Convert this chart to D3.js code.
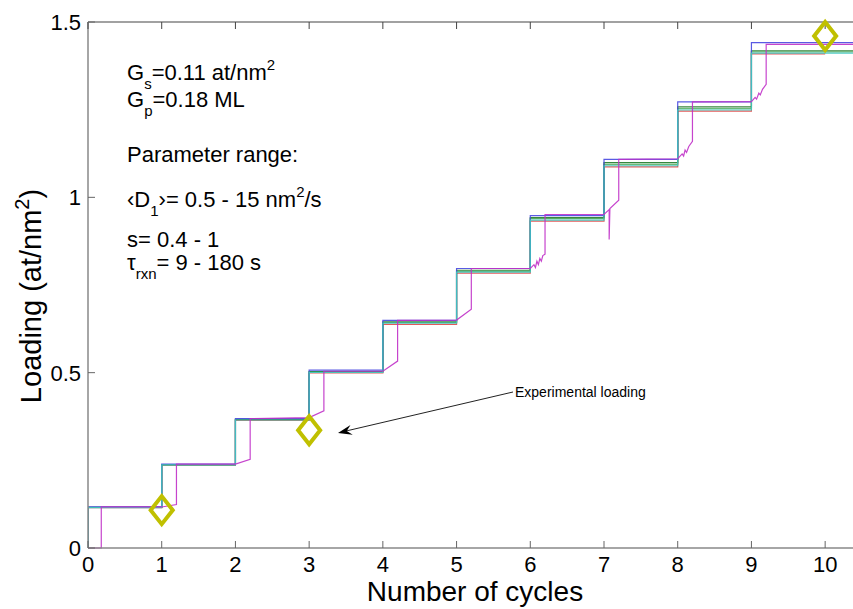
<!DOCTYPE html>
<html><head><meta charset="utf-8">
<script src="https://cdn.jsdelivr.net/npm/d3@7"></script>
<style>body{margin:0;background:#fff}svg{display:block;font-family:"Liberation Sans",Arial,sans-serif}</style>
</head><body><svg id="c" width="853" height="609"></svg>
<script>
// ---- data ----
const cycles = [0,1,2,3,4,5,6,7,8,9];
const blueLevels    = [0.117,0.239,0.369,0.507,0.649,0.797,0.948,1.108,1.272,1.441];
const dkgreenLevels = [0.116,0.238,0.367,0.503,0.645,0.792,0.942,1.099,1.258,1.418];
const greenLevels   = [0.116,0.237,0.366,0.502,0.643,0.789,0.939,1.094,1.253,1.415];
const cyanLevels    = [0.115,0.237,0.365,0.501,0.641,0.787,0.935,1.090,1.249,1.411];
const redLevels     = [0.115,0.236,0.364,0.499,0.638,0.784,0.932,1.087,1.246,1.409];
const magentaX = [0,0.18,0.18,1.0,1.2,1.2,2.0,2.2,2.2,3.0,3.2,3.2,4.0,4.2,4.2,5.0,5.2,5.2,6.0,6.05,6.07,6.09,6.11,6.13,6.15,6.17,6.2,6.2,7.0,7.07,7.07,7.08,7.2,7.2,8.0,8.06,8.08,8.1,8.12,8.15,8.2,8.2,9.0,9.05,9.07,9.1,9.12,9.15,9.2,9.2,10.5];
const magentaY = [0,0,0.117,0.117,0.124,0.239,0.239,0.253,0.369,0.372,0.391,0.504,0.504,0.533,0.649,0.650,0.681,0.797,0.797,0.808,0.800,0.818,0.808,0.826,0.818,0.834,0.838,0.951,0.951,0.965,0.880,0.968,0.992,1.108,1.110,1.124,1.118,1.135,1.128,1.145,1.160,1.272,1.273,1.285,1.280,1.297,1.292,1.308,1.322,1.436,1.436];
const expCycles = [1,3,10];
const expLoading = [0.108,0.336,1.46];
const xTicks = [0,1,2,3,4,5,6,7,8,9,10];
const yTicks = [0,0.5,1,1.5];
const yTickLabels = ["0","0.5","1","1.5"];

// ---- layout ----
const svg = d3.select("#c");
const L=88, R=862, T=22, B=548;
const x = d3.scaleLinear().domain([0,10.5]).range([L,R]);
const y = d3.scaleLinear().domain([0,1.5]).range([B,T]);

svg.append("defs").append("clipPath").attr("id","pc")
  .append("rect").attr("x",L).attr("y",T-2).attr("width",R-L).attr("height",B-T+4);

const g = svg.append("g").attr("clip-path","url(#pc)");

function stepSeries(levels, xEnd){
  const pts=[[0,0]];
  levels.forEach((v,i)=>{pts.push([cycles[i],v]);});
  pts.push([xEnd, levels[levels.length-1]]);
  return pts;
}
const line = d3.line().x(d=>x(d[0])).y(d=>y(d[1]));
const stepLine = d3.line().x(d=>x(d[0])).y(d=>y(d[1])).curve(d3.curveStepAfter);

const series = [
  {lv:redLevels, c:"#e04848", end:10},
  {lv:greenLevels, c:"#5ab46a", end:10.5},
  {lv:dkgreenLevels, c:"#227a2a", end:10.5},
  {lv:blueLevels, c:"#4848e0", end:10.5},
  {lv:cyanLevels, c:"#40c8c0", end:10.5}
];
series.forEach(s=>{
  g.append("path").attr("d",stepLine(stepSeries(s.lv,s.end)))
   .attr("fill","none").attr("stroke",s.c).attr("stroke-width",1.2).attr("opacity",0.9);
});
const magPts = magentaX.map((v,i)=>[v,magentaY[i]]);
g.append("path").attr("d",line(magPts)).attr("fill","none")
  .attr("stroke","#c030c8").attr("stroke-width",1.2).attr("opacity",0.9);

// ---- axes ----
const tickLen = 7;
const ax = svg.append("g");
ax.append("line").attr("x1",L).attr("x2",853).attr("y1",T).attr("y2",T).attr("stroke","#444").attr("stroke-width",1.2);
ax.append("line").attr("x1",L).attr("x2",853).attr("y1",B).attr("y2",B).attr("stroke","#888").attr("stroke-width",1.5);
ax.append("line").attr("x1",L).attr("x2",L).attr("y1",T).attr("y2",B).attr("stroke","#888").attr("stroke-width",1.5);
xTicks.forEach(t=>{
  ax.append("line").attr("x1",x(t)).attr("x2",x(t)).attr("y1",B).attr("y2",B-tickLen).attr("stroke","#666");
  ax.append("line").attr("x1",x(t)).attr("x2",x(t)).attr("y1",T).attr("y2",T+tickLen).attr("stroke","#444");
  ax.append("text").attr("x",x(t)).attr("y",B+24).attr("text-anchor","middle")
    .attr("font-size",22).attr("fill","#000").text(t);
});
yTicks.forEach((t,i)=>{
  ax.append("line").attr("x1",L).attr("x2",L+tickLen).attr("y1",y(t)).attr("y2",y(t)).attr("stroke","#666");
  ax.append("text").attr("x",L-7).attr("y",y(t)+8).attr("text-anchor","end")
    .attr("font-size",22).attr("fill","#000").text(yTickLabels[i]);
});
svg.append("text").attr("x",475).attr("y",601).attr("text-anchor","middle").attr("font-size",28).text("Number of cycles");
const yl = svg.append("text").attr("transform","translate(41,296) rotate(-90)").attr("text-anchor","middle").attr("font-size",29);
yl.append("tspan").text("Loading (at/nm");
yl.append("tspan").attr("font-size",20).attr("dy",-12).text("2");
yl.append("tspan").attr("dy",12).text(")");

// ---- experimental diamonds ----
expCycles.forEach((c,i)=>{
  const cx=x(c), cy=y(expLoading[i]);
  svg.append("path").attr("d",`M${cx},${cy-14}L${cx+11},${cy}L${cx},${cy+14}L${cx-11},${cy}Z`)
    .attr("fill","none").attr("stroke","#c0c000").attr("stroke-width",4);
});

// ---- annotation ----
const ann = svg.append("g");
const ax1=513, ay1=392, ax2=338, ay2=433;
ann.append("line").attr("x1",ax1).attr("y1",ay1).attr("x2",ax2+8).attr("y2",ay2-2).attr("stroke","#222").attr("stroke-width",1);
const ang=Math.atan2(ay1-ay2, ax1-ax2);
function rot(dx,dy){return [ax2+dx*Math.cos(ang)-dy*Math.sin(ang), ay2+dx*Math.sin(ang)+dy*Math.cos(ang)];}
const p1=rot(0,0), p2=rot(14,-5), p3=rot(9,0), p4=rot(14,5);
ann.append("path").attr("d",`M${p1}L${p2}L${p3}L${p4}Z`).attr("fill","#000");
ann.append("text").attr("x",515).attr("y",397).attr("font-size",14).text("Experimental loading");

// ---- parameter text ----
const tx = svg.append("g").attr("font-size",22).attr("fill","#000");
function rich(xp, yp, parts){
  const t = tx.append("text").attr("x",xp).attr("y",yp);
  parts.forEach(p=>{
    const s=t.append("tspan").text(p[0]);
    if(p[1]==="sub"){s.attr("font-size",15).attr("dy",9);}
    else if(p[1]==="sup"){s.attr("font-size",15).attr("dy",-10);}
    else if(p[1]==="back"){s.attr("dy",p[2]);}
  });
}
rich(127,80,[["G"],["s","sub"],["=0.11 at/nm","back",-9],["2","sup"]]);
rich(127,107,[["G"],["p","sub"],["=0.18 ML","back",-9]]);
rich(127,162,[["Parameter range:"]]);
rich(127,207,[["\u2039D"],["1","sub"],["\u203A= 0.5 - 15 nm","back",-9],["2","sup"],["/s","back",10]]);
rich(127,247,[["s= 0.4 - 1"]]);
rich(127,270,[["\u03C4"],["rxn","sub"],["= 9 - 180 s","back",-9]]);
</script></body></html>
